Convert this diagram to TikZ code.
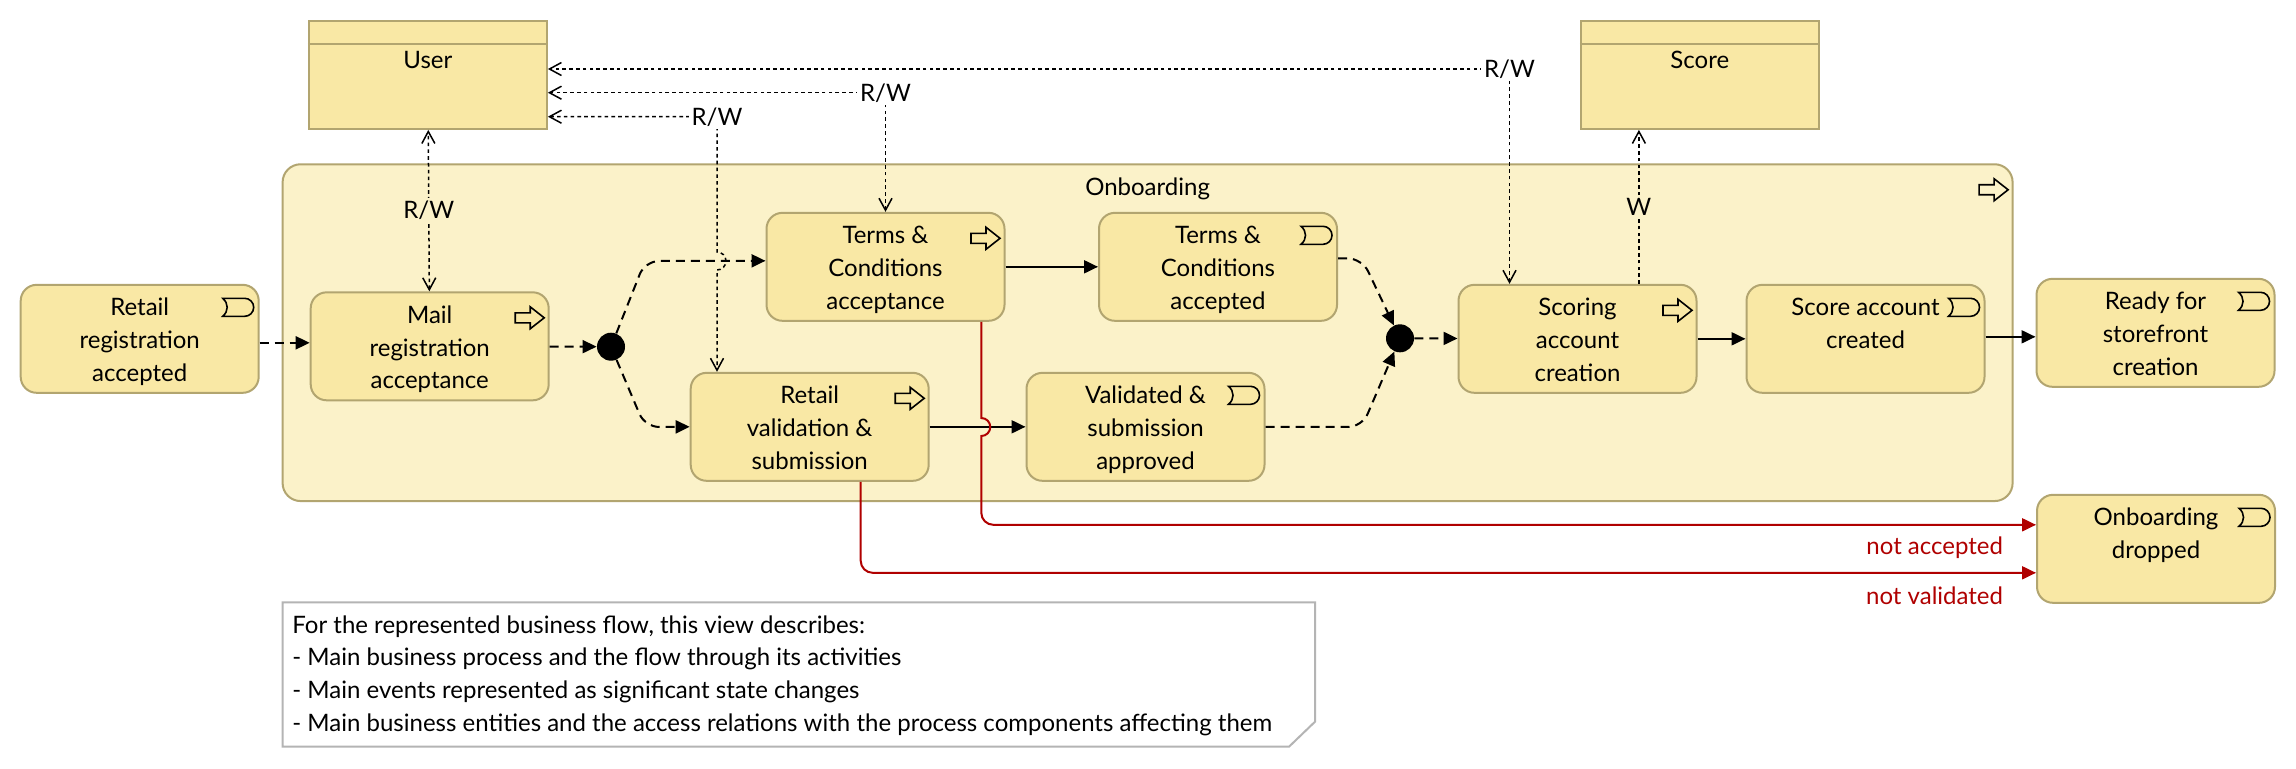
\documentclass[tikz,border=0pt]{standalone}
\usepackage{fontspec}
\setmainfont{Lato}
\usetikzlibrary{arrows.meta}
\definecolor{boxcol}{RGB}{249,232,165}
\definecolor{poolcol}{RGB}{251,242,201}
\definecolor{edgecol}{RGB}{178,165,112}
\definecolor{rejectcol}{RGB}{176,0,0}
\definecolor{notecol}{RGB}{180,180,180}
\tikzset{
  evicon/.pic={\draw[line width=0.8pt] (0,0) -- (22,0) arc[start angle=-90,end angle=90,radius=9] -- (0,18) .. controls (6,13) and (6,5) .. (0,0) -- cycle;},
  procicon/.pic={\draw[line width=0.8pt] (0,6) -- (15,6) -- (15,0) -- (29,11) -- (15,22) -- (15,16) -- (0,16) -- cycle;}
}

\begin{document}
\begin{tikzpicture}[x=0.5pt, y=-0.5pt, font=\fontsize{12}{16.4}\selectfont]
    \tikzstyle{box} = [draw=edgecol, fill=boxcol, line width=1pt, rounded corners=8pt, minimum width=119pt, minimum height=54pt, inner sep=0pt]
    \tikzstyle{entity} = [draw=edgecol, fill=boxcol, line width=1pt, minimum width=119pt, minimum height=54pt, inner sep=0pt]
    \tikzstyle{pool} = [draw=edgecol, fill=poolcol, line width=1pt, rounded corners=9pt, minimum width=865pt, minimum height=168.4pt, inner sep=0pt]
    \tikzstyle{boxtext} = [anchor=north, align=center, inner sep=0pt, yshift=-7pt, execute at begin node=\strut]
    \tikzstyle{junction} = [circle, fill=black, minimum size=14pt, inner sep=0pt]
    \tikzstyle{trig} = [line width=1pt, -{Triangle[length=7pt,width=6.5pt]}]
    \tikzstyle{flow} = [trig, dash pattern=on 4.5pt off 3pt]
    \tikzstyle{access} = [line width=0.75pt, dash pattern=on 1.8pt off 1.6pt, >={Straight Barb[length=6pt,width=6.5pt]}]
    \tikzstyle{reject} = [line width=1pt, draw=rejectcol, -{Triangle[length=7pt,width=6.5pt]}]
    \tikzstyle{rwlabel} = [fill=white, inner sep=1.5pt]
    \tikzstyle{redlabel} = [text=rejectcol, anchor=east, xshift=-16pt, yshift=-11.65pt, inner sep=0pt]

    \fill[white] (0,0) rectangle (2296,768);
    \useasboundingbox (0,0) rectangle (2296,768);

    % Onboarding process
    \node [pool, label={[boxtext, yshift=2.5pt]north:Onboarding}] (Onb) at (1147.6,332.65) {};
    \pic at ([xshift=-17.25pt,yshift=-7.75pt]Onb.north east) {procicon};

    % Business objects
    \node [entity, label={[boxtext, yshift=-5.4pt]north:User}] (User) at (427.9,74.9) {};
    \draw [draw=edgecol, line width=1pt] ([yshift=-11.8pt]User.north west) -- ([yshift=-11.8pt]User.north east);
    \node [entity, label={[boxtext, yshift=-5.4pt]north:Score}] (Score) at (1699.8,74.9) {};
    \draw [draw=edgecol, line width=1pt] ([yshift=-11.8pt]Score.north west) -- ([yshift=-11.8pt]Score.north east);

    % Start event
    \node [box, label={[boxtext]north:Retail\\registration\\accepted}] (RetReg) at (139.7,338.8) {};
    \pic at ([xshift=-18.5pt,yshift=-7.25pt]RetReg.north east) {evicon};

    % Mail step
    \node [box, label={[boxtext]north:Mail\\registration\\acceptance}] (Mail) at (429.7,346.3) {};
    \pic at ([xshift=-17.25pt,yshift=-7.75pt]Mail.north east) {procicon};
    \node [junction] (J1) at (611,346.7) {};

    % Terms branch
    \node [box, label={[boxtext]north:Terms \&\\Conditions\\acceptance}] (Tca) at (885.5,266.8) {};
    \pic at ([xshift=-17.25pt,yshift=-7.75pt]Tca.north east) {procicon};
    \node [box, label={[boxtext]north:Terms \&\\Conditions\\accepted}] (Tcd) at (1218,266.8) {};
    \pic at ([xshift=-18.5pt,yshift=-7.25pt]Tcd.north east) {evicon};

    % Validation branch
    \node [box, label={[boxtext]north:Retail\\validation \&\\submission}] (Rvs) at (809.7,426.8) {};
    \pic at ([xshift=-17.25pt,yshift=-7.75pt]Rvs.north east) {procicon};
    \node [box, label={[boxtext]north:Validated \&\\submission\\approved}] (Val) at (1145.5,426.8) {};
    \pic at ([xshift=-18.5pt,yshift=-7.25pt]Val.north east) {evicon};

    % Scoring
    \node [junction] (J2) at (1400,338.3) {};
    \node [box, label={[boxtext]north:Scoring\\account\\creation}] (Sco) at (1577.5,338.8) {};
    \pic at ([xshift=-17.25pt,yshift=-7.75pt]Sco.north east) {procicon};
    \node [box, label={[boxtext]north:Score account\\created}] (Scd) at (1865.5,338.8) {};
    \pic at ([xshift=-18.5pt,yshift=-7.25pt]Scd.north east) {evicon};

    % End events
    \node [box, label={[boxtext]north:Ready for\\storefront\\creation}] (Rdy) at (2155.5,332.8) {};
    \pic at ([xshift=-18.5pt,yshift=-7.25pt]Rdy.north east) {evicon};
    \node [box, label={[boxtext]north:Onboarding\\dropped}] (Drop) at (2156,548.8) {};
    \pic at ([xshift=-18.5pt,yshift=-7.25pt]Drop.north east) {evicon};

    % Flow
    \draw [flow] ([yshift=-2pt]RetReg.east) -- ([yshift=-2pt]RetReg.east -| Mail.west);
    \draw [flow] (Mail) -- (J1);
    \draw [flow, rounded corners=7pt] (J1) -- (645,261) -- ([yshift=3pt]Tca.west);
    \draw [flow, rounded corners=7pt] (J1) -- (645,427) -- (Rvs.west);
    \draw [trig] (Tca) -- (Tcd);
    \draw [trig] (Rvs) -- (Val);
    \draw [flow, rounded corners=7pt] ([yshift=4.25pt]Tcd.east) -- (1362,258.5) -- (J2);
    \draw [flow, rounded corners=7pt] (Val.east) -- (1362,427) -- (J2);
    \draw [flow] (J2) -- (Sco);
    \draw [trig] (Sco) -- (Scd);
    \draw [trig] ([yshift=1pt]Scd.east) -- ([yshift=1pt]Scd.east -| Rdy.west);

    % Rejections
    \coordinate (hopB) at (981.3,427);
    \draw [reject] ([xshift=47.9pt]Tca.south) -- ([yshift=4.5pt]hopB) arc[start angle=-90,end angle=90,radius=9] [rounded corners=6pt] |- node[redlabel, pos=1] {not accepted} ([yshift=12pt]Drop.west);
    \draw [reject, rounded corners=6pt] ([xshift=25.5pt]Rvs.south) |- node[redlabel, pos=1] {not validated} ([yshift=-12pt]Drop.west);

    % Access to business objects
    \draw [access, <->] (Mail) -- (User) node[midway, fill=poolcol, inner sep=1.5pt] {R/W};
    \draw [access, <->] ([xshift=-34pt]Sco.north) |- node[rwlabel] {R/W} ([yshift=2.95pt]User.east);
    \draw [access, <->] (Tca.north) |- node[rwlabel] {R/W} ([yshift=-8.9pt]User.east);
    \coordinate (hopA) at (717,261);
    \draw [access, <->] ([yshift=-20.9pt]User.east) -| node[rwlabel] {R/W} ([yshift=4.5pt]hopA) arc[start angle=-90,end angle=90,radius=9] -- ([xshift=-46.35pt]Rvs.north);
    \draw [access, ->] ([xshift=30.7pt]Sco.north) -- ([xshift=-30.45pt]Score.south) node[midway, fill=poolcol, inner sep=1.5pt] {W};

    % Note
    \draw [draw=notecol, fill=white, line width=1pt] (282.5,602.3) -- (1315,602.3) -- (1315,721.7) -- (1289,746.7) -- (282.5,746.7) -- cycle;
    \node [anchor=north west, align=left, inner sep=0pt, execute at begin node=\strut] (Note) at (292,615.1) {For the represented business flow, this view describes:\\- Main business process and the flow through its activities\\- Main events represented as significant state changes\\- Main business entities and the access relations with the process components affecting them};
\end{tikzpicture}
\end{document}
